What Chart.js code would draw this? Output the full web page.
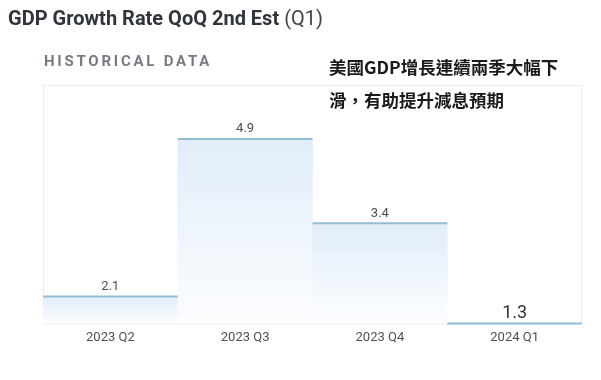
<!DOCTYPE html>
<html>
<head>
<meta charset="utf-8">
<script src="https://cdn.jsdelivr.net/npm/chart.js@4"></script>
<style>
  html,body{margin:0;padding:0;background:#fff;}
  body{width:601px;height:380px;position:relative;overflow:hidden;font-family:Roboto,"Noto Sans",sans-serif;}
  #title{position:absolute;left:8px;top:5px;font-size:20px;font-weight:700;color:#30353c;white-space:nowrap;line-height:26px;}
  #title span{font-weight:400;color:#444;}
  #hist{position:absolute;left:44px;top:52px;font-size:15px;font-weight:700;color:#767b82;letter-spacing:2.75px;line-height:19px;white-space:nowrap;}
  #note{position:absolute;left:329px;top:50px;font-family:"Noto Sans CJK TC","Noto Sans CJK SC",sans-serif;font-size:17.5px;font-weight:700;color:#1a1a1a;line-height:33px;white-space:nowrap;}
  #wrap{position:absolute;left:0;top:0;width:601px;height:380px;}
</style>
</head>
<body>
<div id="wrap"><canvas id="c" width="601" height="380"></canvas></div>
<div id="title">GDP Growth Rate QoQ 2nd Est <span>(Q1)</span></div>
<div id="hist">HISTORICAL DATA</div>
<div id="note">美國GDP增長連續兩季大幅下<br>滑，有助提升減息預期</div>
<script>
const categories = ["2023 Q2", "2023 Q3", "2023 Q4", "2024 Q1"];
const values = [2.1, 4.9, 3.4, 1.3];
const valueLabels = ["2.1", "4.9", "3.4", "1.3"];
const yMin = 1.62;
const yMax = 5.86;

const boxPlugin = {
  id: 'box',
  beforeDatasetsDraw(chart) {
    const {ctx, chartArea: a} = chart;
    ctx.save();
    ctx.strokeStyle = '#ececec';
    ctx.lineWidth = 1;
    ctx.strokeRect(a.left + 0.5, a.top + 0.5, a.right - a.left - 1, a.bottom - a.top);
    ctx.restore();
  },
  afterDatasetsDraw(chart) {
    const {ctx, chartArea: a} = chart;
    const meta = chart.getDatasetMeta(0);
    const yScale = chart.scales.y;
    ctx.save();
    meta.data.forEach((bar, i) => {
      const half = bar.width / 2;
      let y = yScale.getPixelForValue(values[i]);
      if (y > a.bottom) y = a.bottom;
      ctx.strokeStyle = '#93bdd7';
      ctx.lineWidth = 2;
      ctx.beginPath();
      ctx.moveTo(bar.x - half, y);
      ctx.lineTo(bar.x + half, y);
      ctx.stroke();
      const last = i === values.length - 1;
      ctx.fillStyle = last ? '#333333' : '#4a4f55';
      ctx.font = last ? '18px Roboto' : '13px Roboto';
      ctx.textAlign = 'center';
      ctx.textBaseline = 'middle';
      ctx.fillText(valueLabels[i], bar.x, y - 10);
    });
    ctx.restore();
  }
};

new Chart(document.getElementById('c'), {
  type: 'bar',
  data: {
    labels: categories,
    datasets: [{
      data: values,
      borderWidth: 0,
      categoryPercentage: 1,
      barPercentage: 1,
      backgroundColor(context) {
        const chart = context.chart;
        const a = chart.chartArea;
        if (!a) return '#e4eff9';
        const v = context.raw;
        const yScale = chart.scales.y;
        let top = yScale.getPixelForValue(v);
        if (top > a.bottom - 1) top = a.bottom - 1;
        const g = chart.ctx.createLinearGradient(0, top, 0, a.bottom);
        g.addColorStop(0, '#e1edf9');
        g.addColorStop(1, '#fcfdff');
        return g;
      }
    }]
  },
  options: {
    responsive: false,
    animation: false,
    devicePixelRatio: 1,
    layout: {padding: {left: 43, right: 19, top: 85, bottom: 27}},
    plugins: {legend: {display: false}, tooltip: {enabled: false}, title: {display: false}},
    scales: {
      x: {
        grid: {display: false, drawTicks: false},
        border: {display: false},
        ticks: {color: '#4d5258', font: {family: 'Roboto', size: 13}, padding: 7}
      },
      y: {display: false, min: yMin, max: yMax}
    }
  },
  plugins: [boxPlugin]
});
</script>
</body>
</html>
